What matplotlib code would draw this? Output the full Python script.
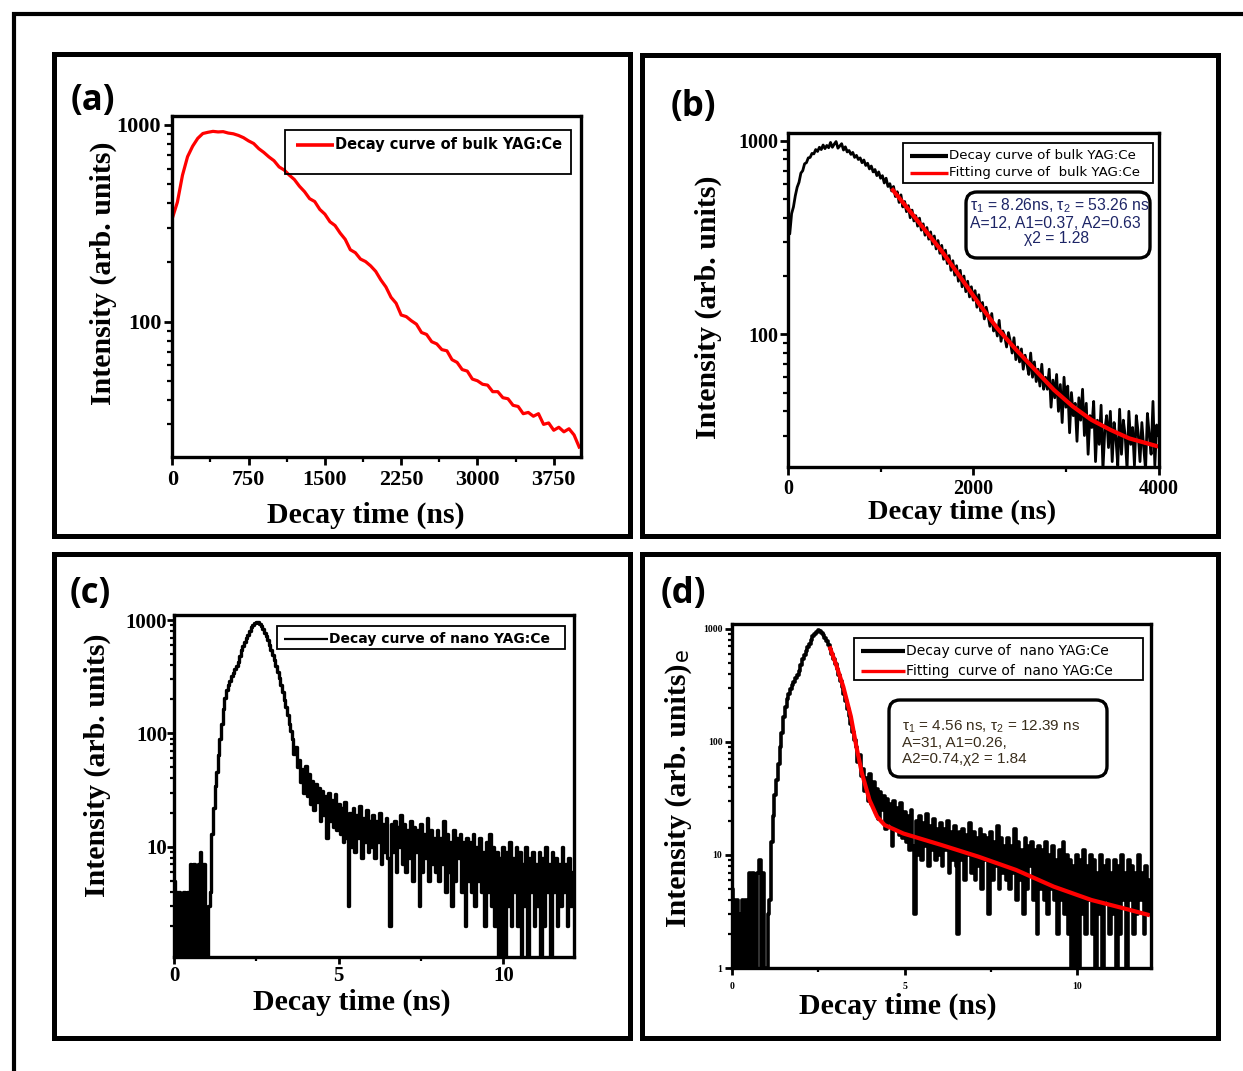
import numpy as np
import matplotlib
matplotlib.use("Agg")
import matplotlib.pyplot as plt
from matplotlib.patches import Rectangle, FancyBboxPatch
from matplotlib.lines import Line2D
from matplotlib.ticker import LogLocator, NullFormatter, MultipleLocator
from matplotlib.transforms import IdentityTransform

plt.rcParams['mathtext.fontset'] = 'custom'
plt.rcParams['mathtext.rm'] = 'Liberation Sans'
plt.rcParams['mathtext.it'] = 'Liberation Sans'

# ---------------- data ----------------
# (a) bulk YAG:Ce decay, one value every 50 ns from 0 ns
bulk_a_step = 50.0
bulk_a = [335, 405, 555, 690, 780, 855, 905, 918, 928, 922,
          925, 910, 902, 885, 862, 830, 805, 758, 725, 688,
          658, 612, 590, 556, 528, 488, 458, 422, 408, 372,
          352, 322, 308, 282, 262, 232, 224, 208, 202, 192,
          180, 163, 150, 133, 124, 108, 106, 101, 97, 88,
          86, 79, 77, 72, 71, 64, 62, 57, 56, 51,
          50, 48, 47.5, 44, 44, 41, 40.5, 37.5, 37, 34,
          34.5, 33, 34, 30, 30.5, 28, 29, 27.5, 28.5, 26.5,
          23]

# (b) bulk YAG:Ce decay (raw counts), one value every 20 ns from 0 ns
bulk_b_step = 20.0
bulk_b = [380, 330, 420, 455, 520, 575, 610, 680, 700, 760, 770, 815, 820, 860, 855, 900, 880, 925, 900, 950,
          910, 945, 920, 980, 925, 960, 990, 915, 940, 965, 895, 930, 875, 890, 850, 870, 820, 840, 800, 815,
          770, 795, 745, 765, 715, 740, 690, 710, 660, 690, 640, 660, 605, 640, 580, 600, 550, 580, 515, 545,
          480, 525, 455, 485, 430, 462, 400, 438, 385, 410, 362, 398, 345, 372, 325, 356, 310, 338, 292, 322,
          276, 305, 262, 288, 244, 272, 232, 255, 214, 240, 202, 226, 188, 214, 176, 200, 166, 188, 156, 176,
          150, 168, 138, 160, 132, 146, 120, 138, 125, 110, 128, 104, 112, 98, 118, 92, 104, 98, 86, 102,
          92, 80, 96, 74, 86, 72, 84, 66, 78, 70, 62, 80, 60, 72, 57, 66, 54, 70, 52, 60,
          52, 66, 42, 58, 47, 62, 40, 55, 35, 60, 42, 54, 31, 50, 38, 44, 28, 47, 36, 52,
          30, 44, 24, 38, 33, 45, 22, 36, 27, 43, 20, 32, 38, 26, 40, 22, 35, 29, 21, 41,
          24, 36, 30, 20, 40, 27, 33, 21, 38, 31, 22, 35, 26, 20, 39, 30, 24, 45, 21, 34,
          30]

# (b) fitting curve of bulk YAG:Ce
fit_bulk_t = [1133, 1450, 1653, 1856, 2059, 2262, 2465, 2668, 2871, 3074, 3277, 3480, 3683, 4000]
fit_bulk_v = [556, 360, 272, 199, 144.5, 107, 83, 65.5, 51.6, 42.4, 36.1, 32.1, 29.0, 26.3]

# (c), (d) nano YAG:Ce decay, one value every 0.05 ns from 0 ns
nano_step = 0.05
nano = [5, 4, 1, 4, 1, 3, 4, 1, 4, 1, 7, 1, 7, 4, 1, 7, 9, 1, 7, 1,
        1, 3, 4, 13, 22, 34, 46, 64, 90, 120, 165, 205, 240, 268, 292, 318, 340, 368, 395, 425,
        480, 540, 590, 640, 690, 740, 800, 860, 900, 950, 970, 955, 925, 880, 830, 775, 720, 660, 600, 545,
        490, 440, 390, 345, 305, 265, 230, 195, 170, 145, 122, 104, 90, 66, 76, 50, 58, 37, 48, 30,
        52, 28, 44, 24, 38, 21, 36, 25, 33, 17, 31, 19, 28, 12, 30, 17, 26, 15, 29, 14,
        24, 13, 22, 11, 25, 12, 3, 20, 10, 22, 9, 19, 12, 23, 8, 18, 11, 21, 9, 17,
        10, 19, 8, 17, 11, 20, 7, 16, 9, 18, 8, 2, 16, 9, 17, 6, 15, 10, 19, 7,
        16, 6, 14, 8, 17, 5, 15, 9, 14, 3, 16, 6, 13, 8, 18, 5, 14, 7, 12, 6,
        14, 5, 12, 7, 17, 4, 13, 6, 11, 3, 14, 5, 12, 8, 13, 4, 11, 2, 12, 5,
        11, 4, 13, 3, 10, 5, 12, 4, 9, 2, 11, 4, 13, 3, 10, 2, 9, 1, 8, 1,
        10, 1, 9, 3, 11, 2, 8, 4, 10, 2, 9, 1, 7, 3, 10, 1, 8, 4, 9, 2,
        7, 3, 9, 1, 8, 2, 10, 4, 7, 1, 9, 4, 8, 2, 7, 3, 10, 4, 7, 2,
        8, 3, 6, 4]

# (d) fitting curve of nano YAG:Ce
fit_nano_t = [2.84, 3.0, 3.22, 3.44, 3.6, 3.76, 3.98, 4.2, 4.42, 4.96, 6.05, 7.14, 8.23, 9.32, 10.41, 11.5, 12.05]
fit_nano_v = [675, 497, 309, 168, 91, 52.8, 30.7, 21.8, 18.4, 15.5, 12.3, 9.66, 7.37, 5.25, 4.0, 3.28, 2.96]

# tick labels
a_xticks = [0, 750, 1500, 2250, 3000, 3750]
b_xticks = [0, 2000, 4000]
nano_xticks = [0, 5, 10]

xlabel = "Decay time (ns)"
ylabel = "Intensity (arb. units)"
leg_a = "Decay curve of bulk YAG:Ce"
leg_b = ["Decay curve of bulk YAG:Ce", "Fitting curve of  bulk YAG:Ce"]
leg_c = "Decay curve of nano YAG:Ce"
leg_d = ["Decay curve of  nano YAG:Ce", "Fitting  curve of  nano YAG:Ce"]
params_b = ["\u03c4$_1$ = 8.26ns, \u03c4$_2$ = 53.26 ns", "A=12, A1=0.37, A2=0.63", "\u03c72 = 1.28"]
params_d = ["\u03c4$_1$ = 4.56 ns, \u03c4$_2$ = 12.39 ns", "A=31, A1=0.26,", "A2=0.74,\u03c72 = 1.84"]

# ---------------- layout ----------------
W, H = 1243, 1071
fig = plt.figure(figsize=(W / 100, H / 100), dpi=100)

SERIF = "Liberation Serif"


def fxy(x, y):
    return x / W, 1 - y / H


def add_ax(x0, y0, x1, y1):
    return fig.add_axes([x0 / W, 1 - y1 / H, (x1 - x0) / W, (y1 - y0) / H])


def frame(x0, y0, x1, y1, lw):
    fig.add_artist(Rectangle((x0 / W, 1 - y1 / H), (x1 - x0) / W, (y1 - y0) / H,
                             transform=fig.transFigure, fill=False, lw=lw,
                             ec="black", joinstyle="miter"))


def style(ax, ylim, xlim, xt, yt, xminor, fs, padx, pady, ticklen=6):
    ax.set_yscale("log")
    ax.set_xlim(*xlim)
    for s in ax.spines.values():
        s.set_linewidth(2.4)
    ax.set_xticks(xt, labels=[str(v) for v in xt], fontsize=fs, fontweight="bold", family=SERIF)
    ax.set_yticks(yt, labels=[str(v) for v in yt], fontsize=fs, fontweight="bold", family=SERIF)
    ax.xaxis.set_minor_locator(MultipleLocator(xminor))
    ax.yaxis.set_minor_locator(LogLocator(base=10, subs=np.arange(2, 10) * 1.0, numticks=20))
    ax.yaxis.set_minor_formatter(NullFormatter())
    ax.set_ylim(*ylim)
    ax.tick_params(which="both", direction="out", top=False, right=False)
    ax.tick_params(which="major", length=ticklen, width=2)
    ax.tick_params(which="minor", length=ticklen * 0.6, width=1.6)
    ax.tick_params(axis="x", which="major", pad=padx)
    ax.tick_params(axis="y", which="major", pad=pady)


def legend(box, entries, fs, weight):
    x0, y0, x1, y1 = box
    fig.add_artist(Rectangle((x0 / W, 1 - y1 / H), (x1 - x0) / W, (y1 - y0) / H,
                             transform=fig.transFigure, fill=False, lw=1.3, ec="black"))
    for (y, sx0, sx1, color, lw, text) in entries:
        fig.add_artist(Line2D([sx0 / W, sx1 / W], [1 - y / H, 1 - y / H],
                              transform=fig.transFigure, color=color, lw=lw,
                              solid_capstyle="butt"))
        fig.text((sx1 + 1) / W, 1 - y / H, text, ha="left", va="center",
                 fontsize=fs, fontweight=weight, family="DejaVu Sans")


def rbox(box, r=11, lw=2.4):
    x0, y0, x1, y1 = box
    fig.add_artist(FancyBboxPatch((x0, H - y1), x1 - x0, y1 - y0,
                                  boxstyle=f"round,pad=0,rounding_size={r}",
                                  transform=IdentityTransform(), fill=False,
                                  lw=lw, ec="black"))


# outer frame and panel frames
frame(13.5, 13.5, 1300, 1120, 3.0)
frame(53.5, 53.5, 629.5, 536, 3.6)
frame(641.5, 54.5, 1217.5, 536, 3.6)
frame(53.5, 553.5, 629.5, 1037.5, 3.6)
frame(641.5, 553.5, 1217.5, 1037.5, 3.6)

# panel letters
for lab, (x, y) in zip(["(a)", "(b)", "(c)", "(d)"],
                       [(93, 101), (693, 107), (90, 594), (683, 594)]):
    fig.text(*fxy(x, y), lab, ha="center", va="center", fontsize=25,
             fontweight="bold", family="Open Sans")

# ---------------- (a) ----------------
ax_a = add_ax(172.3, 115.7, 581.2, 457.3)
t_a = np.arange(len(bulk_a)) * bulk_a_step
ax_a.plot(t_a, bulk_a, color="#ff0000", lw=2.3)
style(ax_a, (20.4, 1115), (0, 4020), a_xticks, [100, 1000], 375, 16, 3, 2)
legend((285, 130, 571, 174), [(145, 296, 334, "#ff0000", 2.6, leg_a)], 10.5, "bold")

# ---------------- (b) ----------------
ax_b = add_ax(787.9, 132.7, 1159, 466.7)
t_b = np.arange(len(bulk_b)) * bulk_b_step
ax_b.plot(t_b, bulk_b, color="black", lw=2.0)
ax_b.plot(fit_bulk_t, fit_bulk_v, color="#ff0000", lw=3.0)
style(ax_b, (20.7, 1100), (0, 4005), b_xticks, [100, 1000], 1000, 14.5, 3, 1)
legend((902.7, 143.3, 1152.7, 183.3),
       [(156, 910, 948, "black", 3.0, leg_b[0]),
        (172.7, 910, 948, "#ff0000", 2.4, leg_b[1])], 9.6, "normal")
rbox((966, 192, 1150, 258))
cb = "#1d2566"
fig.text(*fxy(970, 206), params_b[0], ha="left", va="center", fontsize=11.3,
         family="Liberation Sans", color=cb)
fig.text(*fxy(970, 223), params_b[1], ha="left", va="center", fontsize=11.3,
         family="Liberation Sans", color=cb)
fig.text(*fxy(1057, 239), params_b[2], ha="center", va="center", fontsize=11.3,
         family="Liberation Sans", color=cb)

# ---------------- (c) ----------------
ax_c = add_ax(174.2, 615, 573.7, 956.7)
t_n = np.arange(len(nano)) * nano_step
ax_c.plot(t_n, nano, color="black", lw=2.4, drawstyle="steps-mid")
style(ax_c, (1.07, 1107), (0, 12.14), nano_xticks, [10, 100, 1000], 2.5, 15, 2, 0, ticklen=5)
legend((277, 626, 564.7, 649), [(639, 284, 328, "black", 1.6, leg_c)], 10.0, "bold")

# ---------------- (d) ----------------
ax_d = add_ax(732.2, 624, 1151, 968)
ax_d.plot(t_n, nano, color="black", lw=2.6, drawstyle="steps-mid")
ax_d.plot(fit_nano_t, fit_nano_v, color="#ff0000", lw=3.0)
style(ax_d, (1, 1107), (0, 12.14), nano_xticks, [1, 10, 100, 1000], 2.5, 7, 5, 2, ticklen=5)
legend((854, 638, 1143, 680),
       [(650.7, 861, 905, "black", 3.0, leg_d[0]),
        (670.7, 861, 905, "#ff0000", 2.4, leg_d[1])], 10.0, "normal")
rbox((889, 700, 1107, 777))
cd = "#3a2e1c"
fig.text(*fxy(902, 727), params_d[0], ha="left", va="center", fontsize=11,
         family="Liberation Sans", color=cd)
fig.text(*fxy(902, 743), params_d[1], ha="left", va="center", fontsize=11,
         family="Liberation Sans", color=cd)
fig.text(*fxy(902, 759), params_d[2], ha="left", va="center", fontsize=11,
         family="Liberation Sans", color=cd)

# axis labels
for (x, y, fs) in [(366, 515, 21.5), (962, 512, 20.5), (352, 1002, 21.5), (898, 1006, 21.5)]:
    fig.text(*fxy(x, y), xlabel, ha="center", va="center", fontsize=fs,
             fontweight="bold", family=SERIF)
for (x, y) in [(103, 273), (708, 307), (97, 765), (678, 795)]:
    fig.text(*fxy(x, y), ylabel, ha="center", va="center", rotation=90,
             fontsize=21.5, fontweight="bold", family=SERIF)
fig.text(*fxy(682, 655), "e", ha="center", va="center", rotation=90,
         fontsize=15, family="DejaVu Sans")

fig.savefig("out.png", dpi=100)
